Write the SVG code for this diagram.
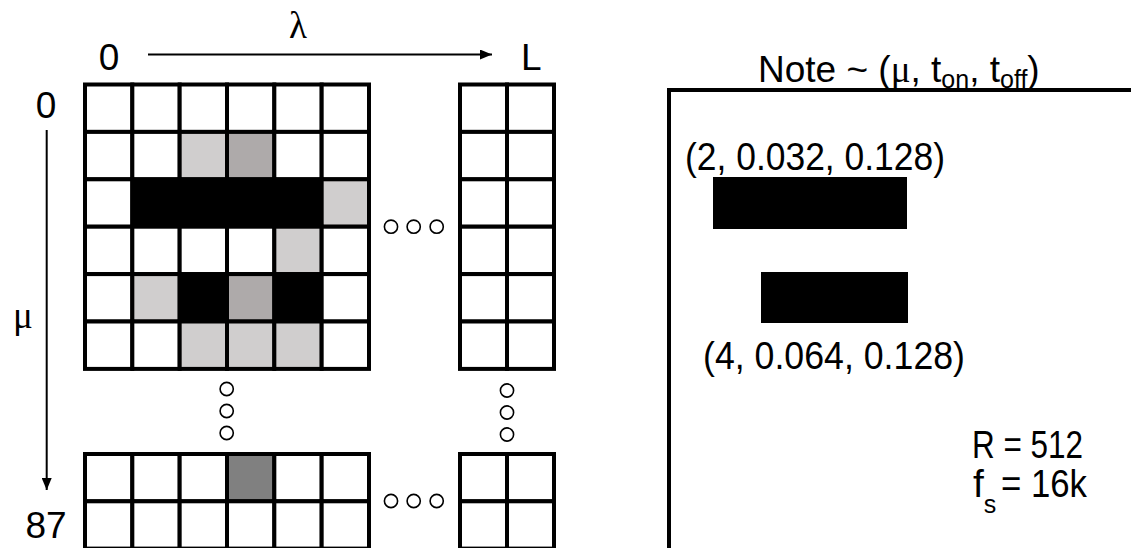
<svg xmlns="http://www.w3.org/2000/svg" width="1131" height="548" viewBox="0 0 1131 548">
<style>
.c{stroke:#000;stroke-width:4;fill:#fff}
.l{fill:#d0cece}.d{fill:#aeaaaa}.k{fill:#000}.m{fill:#808080}
.dot{fill:none;stroke:#000;stroke-width:1.6}
.t{font-family:"Liberation Sans",Arial,sans-serif;font-size:37px;fill:#000}
.b{font-size:39px}
.s{font-size:25px}
.g{font-family:"Liberation Serif","Times New Roman",serif}
.ax{stroke:#000;stroke-width:2;fill:none}
</style>
<defs>
<marker id="ah" markerUnits="userSpaceOnUse" markerWidth="12" markerHeight="10" refX="12" refY="5" orient="auto">
<path d="M0,0 L12,5 L0,10 z" fill="#000"/>
</marker>
</defs>
<rect width="1131" height="548" fill="#fff"/>

<g id="axis-labels">
<text class="t" x="109" y="70" text-anchor="middle">0</text>
<text class="t" x="521" y="70">L</text>
<text class="t g" x="298" y="38" text-anchor="middle">λ</text>
<text class="t" x="46" y="118" text-anchor="middle">0</text>
<text class="t g" x="23" y="328" text-anchor="middle">μ</text>
<text class="t" x="46" y="538" text-anchor="middle">87</text>
</g>

<g id="connectors">
<line class="ax" x1="148" y1="54.5" x2="492" y2="54.5" marker-end="url(#ah)"/>
<line class="ax" x1="46.7" y1="130" x2="46.7" y2="490" marker-end="url(#ah)"/>
</g>

<g id="main-grid">
<rect class="c" x="85" y="84.5" width="47.33" height="47.4"/>
<rect class="c" x="132.33" y="84.5" width="47.33" height="47.4"/>
<rect class="c" x="179.67" y="84.5" width="47.33" height="47.4"/>
<rect class="c" x="227" y="84.5" width="47.33" height="47.4"/>
<rect class="c" x="274.33" y="84.5" width="47.33" height="47.4"/>
<rect class="c" x="321.67" y="84.5" width="47.33" height="47.4"/>

<rect class="c" x="85" y="131.9" width="47.33" height="47.4"/>
<rect class="c" x="132.33" y="131.9" width="47.33" height="47.4"/>
<rect class="c l" x="179.67" y="131.9" width="47.33" height="47.4"/>
<rect class="c d" x="227" y="131.9" width="47.33" height="47.4"/>
<rect class="c" x="274.33" y="131.9" width="47.33" height="47.4"/>
<rect class="c" x="321.67" y="131.9" width="47.33" height="47.4"/>

<rect class="c" x="85" y="179.3" width="47.33" height="47.4"/>
<rect class="c k" x="132.33" y="179.3" width="47.33" height="47.4"/>
<rect class="c k" x="179.67" y="179.3" width="47.33" height="47.4"/>
<rect class="c k" x="227" y="179.3" width="47.33" height="47.4"/>
<rect class="c k" x="274.33" y="179.3" width="47.33" height="47.4"/>
<rect class="c l" x="321.67" y="179.3" width="47.33" height="47.4"/>

<rect class="c" x="85" y="226.7" width="47.33" height="47.4"/>
<rect class="c" x="132.33" y="226.7" width="47.33" height="47.4"/>
<rect class="c" x="179.67" y="226.7" width="47.33" height="47.4"/>
<rect class="c" x="227" y="226.7" width="47.33" height="47.4"/>
<rect class="c l" x="274.33" y="226.7" width="47.33" height="47.4"/>
<rect class="c" x="321.67" y="226.7" width="47.33" height="47.4"/>

<rect class="c" x="85" y="274.1" width="47.33" height="47.4"/>
<rect class="c l" x="132.33" y="274.1" width="47.33" height="47.4"/>
<rect class="c k" x="179.67" y="274.1" width="47.33" height="47.4"/>
<rect class="c d" x="227" y="274.1" width="47.33" height="47.4"/>
<rect class="c k" x="274.33" y="274.1" width="47.33" height="47.4"/>
<rect class="c" x="321.67" y="274.1" width="47.33" height="47.4"/>

<rect class="c" x="85" y="321.5" width="47.33" height="47.4"/>
<rect class="c" x="132.33" y="321.5" width="47.33" height="47.4"/>
<rect class="c l" x="179.67" y="321.5" width="47.33" height="47.4"/>
<rect class="c l" x="227" y="321.5" width="47.33" height="47.4"/>
<rect class="c l" x="274.33" y="321.5" width="47.33" height="47.4"/>
<rect class="c" x="321.67" y="321.5" width="47.33" height="47.4"/>
</g>

<g id="right-grid">
<rect class="c" x="460" y="84.5" width="47" height="47.4"/>
<rect class="c" x="507" y="84.5" width="47" height="47.4"/>
<rect class="c" x="460" y="131.9" width="47" height="47.4"/>
<rect class="c" x="507" y="131.9" width="47" height="47.4"/>
<rect class="c" x="460" y="179.3" width="47" height="47.4"/>
<rect class="c" x="507" y="179.3" width="47" height="47.4"/>
<rect class="c" x="460" y="226.7" width="47" height="47.4"/>
<rect class="c" x="507" y="226.7" width="47" height="47.4"/>
<rect class="c" x="460" y="274.1" width="47" height="47.4"/>
<rect class="c" x="507" y="274.1" width="47" height="47.4"/>
<rect class="c" x="460" y="321.5" width="47" height="47.4"/>
<rect class="c" x="507" y="321.5" width="47" height="47.4"/>
</g>

<g id="bottom-grid">
<rect class="c" x="85" y="454" width="47.33" height="47.3"/>
<rect class="c" x="132.33" y="454" width="47.33" height="47.3"/>
<rect class="c" x="179.67" y="454" width="47.33" height="47.3"/>
<rect class="c m" x="227" y="454" width="47.33" height="47.3"/>
<rect class="c" x="274.33" y="454" width="47.33" height="47.3"/>
<rect class="c" x="321.67" y="454" width="47.33" height="47.3"/>
<rect class="c" x="85" y="501.3" width="47.33" height="47.3"/>
<rect class="c" x="132.33" y="501.3" width="47.33" height="47.3"/>
<rect class="c" x="179.67" y="501.3" width="47.33" height="47.3"/>
<rect class="c" x="227" y="501.3" width="47.33" height="47.3"/>
<rect class="c" x="274.33" y="501.3" width="47.33" height="47.3"/>
<rect class="c" x="321.67" y="501.3" width="47.33" height="47.3"/>
</g>

<g id="bottom-right-grid">
<rect class="c" x="460" y="454" width="47" height="47.3"/>
<rect class="c" x="507" y="454" width="47" height="47.3"/>
<rect class="c" x="460" y="501.3" width="47" height="47.3"/>
<rect class="c" x="507" y="501.3" width="47" height="47.3"/>
</g>

<g id="ellipses">
<circle class="dot" cx="391" cy="226.7" r="6.6"/>
<circle class="dot" cx="413.7" cy="226.7" r="6.6"/>
<circle class="dot" cx="436.7" cy="226.7" r="6.6"/>
<circle class="dot" cx="391" cy="501" r="6.6"/>
<circle class="dot" cx="413.7" cy="501" r="6.6"/>
<circle class="dot" cx="436.7" cy="501" r="6.6"/>
<circle class="dot" cx="226.7" cy="389" r="6.6"/>
<circle class="dot" cx="226.7" cy="411" r="6.6"/>
<circle class="dot" cx="226.7" cy="433" r="6.6"/>
<circle class="dot" cx="507" cy="390.5" r="6.6"/>
<circle class="dot" cx="507" cy="412.5" r="6.6"/>
<circle class="dot" cx="507" cy="434.5" r="6.6"/>
</g>

<g id="note-panel">
<text class="t" x="758" y="82">Note ~ (<tspan class="g">μ</tspan>, t<tspan class="s" dy="6">on</tspan><tspan dy="-6">, t</tspan><tspan class="s" dy="6">off</tspan><tspan dy="-6">)</tspan></text>
<path d="M669,548 V90 H1131" fill="none" stroke="#000" stroke-width="4"/>
</g>

<g id="note-1">
<text class="t b" x="685" y="170" textLength="260" lengthAdjust="spacingAndGlyphs">(2, 0.032, 0.128)</text>
<rect x="713" y="177" width="194" height="52" fill="#000"/>
</g>

<g id="note-2">
<rect x="761" y="272" width="147" height="51" fill="#000"/>
<text class="t b" x="703" y="369" textLength="262" lengthAdjust="spacingAndGlyphs">(4, 0.064, 0.128)</text>
</g>

<g id="params">
<text class="t b" x="972" y="458" textLength="111" lengthAdjust="spacingAndGlyphs">R = 512</text>
<text class="t b" x="973" y="497">f<tspan class="s" dy="16">s</tspan><tspan x="1001" dy="-16" textLength="86" lengthAdjust="spacingAndGlyphs">= 16k</tspan></text>
</g>
</svg>
